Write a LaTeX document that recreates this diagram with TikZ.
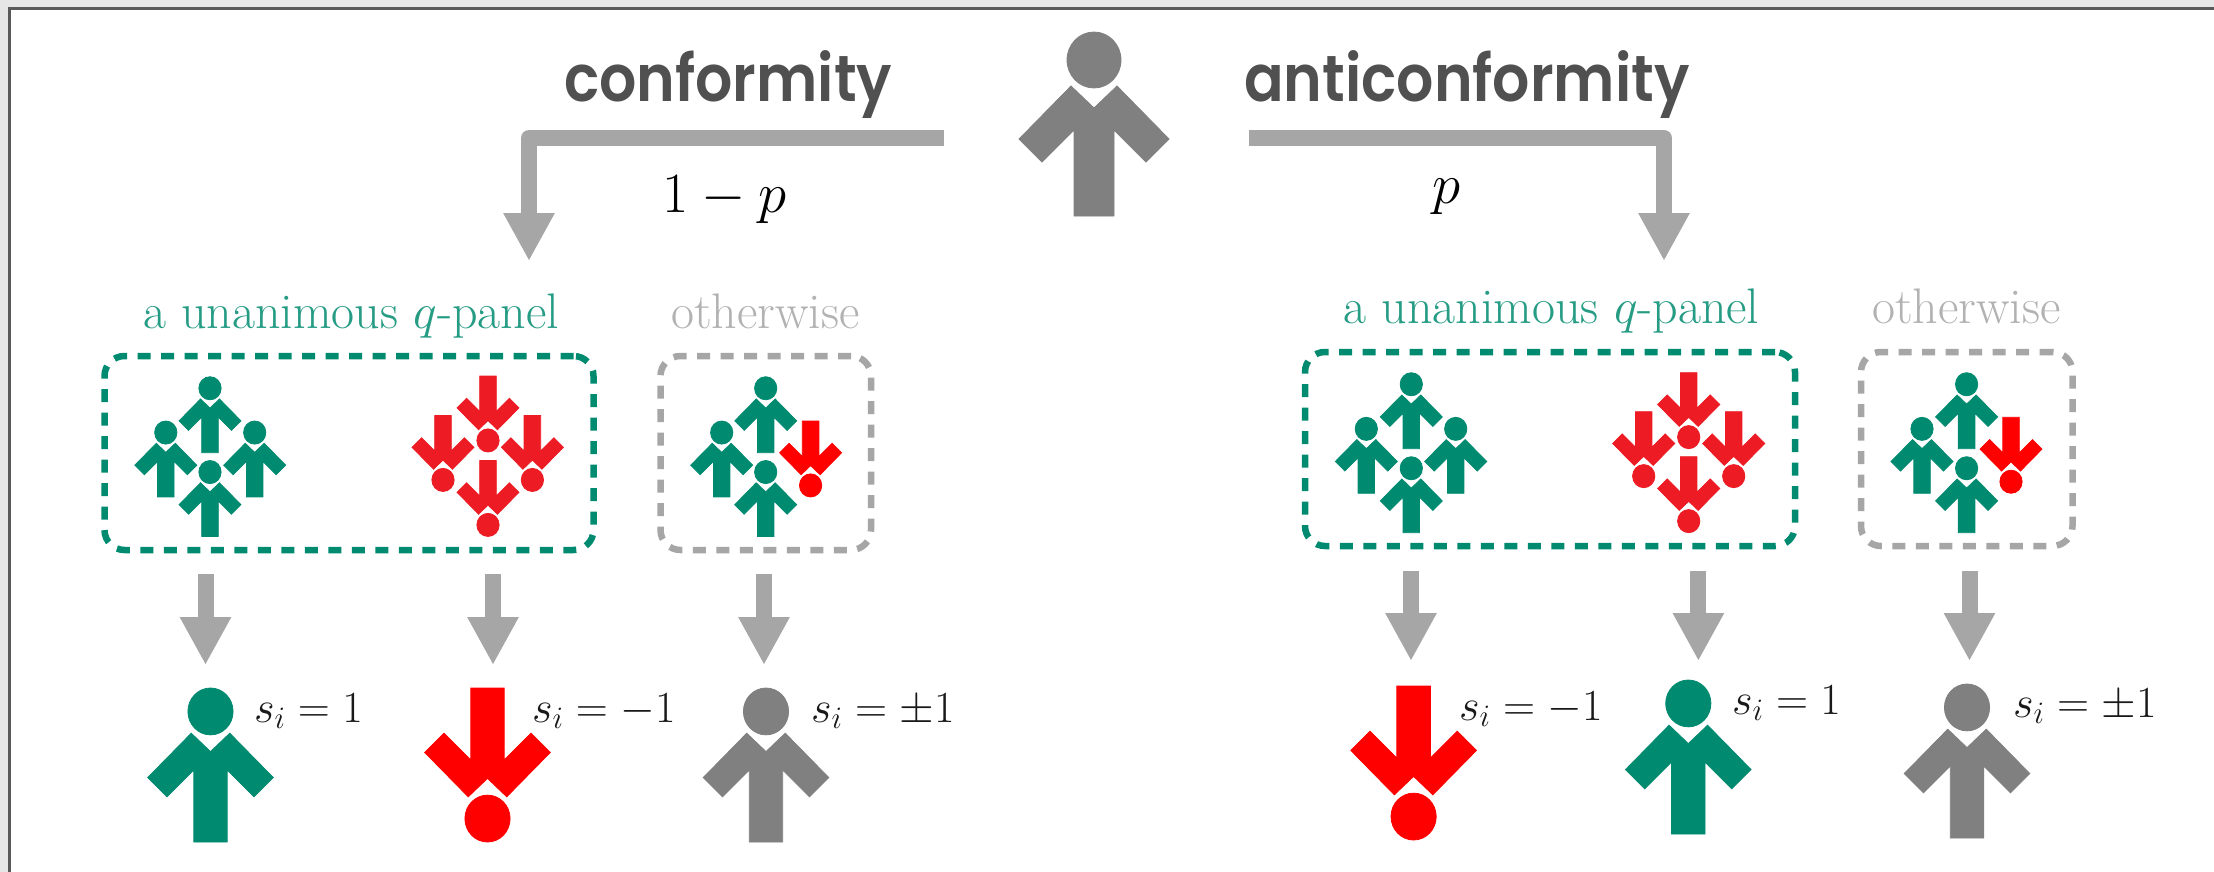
\documentclass[tikz,border=0pt]{standalone}
\usepackage{fix-cm}
\usepackage[no-math]{fontspec}
\usetikzlibrary{arrows.meta}
\newfontfamily\titlefont[FakeStretch=0.9]{Poppins SemiBold}
\definecolor{pgreen}{HTML}{008B70}
\definecolor{pred}{HTML}{FF0000}
\definecolor{pcrim}{HTML}{ED1C24}
\definecolor{pgray}{HTML}{808080}
\definecolor{arrowgray}{HTML}{A6A6A6}
\definecolor{titlegray}{HTML}{505050}
\definecolor{backdrop}{HTML}{E6E6E6}
\definecolor{framegray}{HTML}{595959}
\tikzset{
  manfig/.pic={
    \fill[pic actions] (0,-64) ellipse [x radius=27, y radius=28];
    \fill[pic actions] (0,-16)--(23,-38)--(75,15)--(52,38)--(20,6)--(20,92)--(-20,92)--(-20,6)--(-52,38)--(-75,15)--(-23,-38)--cycle;
  },
  flow/.style={draw=arrowgray, line width=16pt, line join=round, -{Triangle[length=48pt,width=48pt]}},
  titletext/.style={anchor=base west, inner sep=0pt, text=titlegray, font=\titlefont\fontsize{65}{75}\selectfont},
  bigmath/.style={anchor=base west, inner sep=0pt, text=black, font=\fontsize{57}{66}\selectfont},
  statemath/.style={anchor=base west, inner sep=0pt, text=black!90, font=\fontsize{44.5}{52}\selectfont},
  paneltext/.style={anchor=base west, inner sep=0pt, font=\fontsize{50}{60}\selectfont},
  panelbox/.style={draw, line width=6.5pt, dash pattern=on 13pt off 10.5pt, rounded corners=20pt, inner sep=0pt},
}
\newcommand{\upman}[5]{\pic (#1) [fill=#5, draw=#5, line width=.8pt, scale=#4] at (#2,{#3+92*#4}) {manfig};}
\newcommand{\downman}[5]{\pic (#1) [fill=#5, draw=#5, line width=.8pt, xscale=#4, yscale=-#4] at (#2,{#3+92*#4}) {manfig};}
\begin{document}
\begin{tikzpicture}[x=1pt,y=-1pt]
\useasboundingbox (0,0) rectangle (2214,872);
% page backdrop and frame
\fill[backdrop] (0,0) rectangle (2214,872);
\fill[white] (9.5,9) rectangle (2214,872);
\draw[line width=3pt, draw=framegray] (9.5,872) -- (9.5,9) -- (2214,9);

% centre person and titles
\upman{top}{1094}{32}{1}{pgray}
\node[titletext] (tconf) at (564,101.5) {conformity};
\node[titletext] (tanti) at (1244,101.5) {anticonformity};
\node[bigmath] (lconf) at (662,212.5) {$1-p$};
\node[bigmath] (lanti) at (1432,203) {$p$};

% main branches
\coordinate (bl0) at (944,138);
\coordinate (bl1) at (529,138);
\coordinate (bl2) at (529,261);
\coordinate (br0) at (1249,138);
\coordinate (br1) at (1664,138);
\coordinate (br2) at (1664,261);
\draw[flow] (bl0) -- (bl1) -- (bl2);
\draw[flow] (br0) -- (br1) -- (br2);

% left panels
\node[paneltext, text=pgreen!85] (pl1) at (143,328) {a unanimous $q$-panel};
\node[paneltext, text=gray!60] (pl2) at (671,328) {otherwise};
\node[panelbox, draw=pgreen, minimum width=489pt, minimum height=194pt] (bl) at (349,453) {};
\node[panelbox, draw=arrowgray, minimum width=210.5pt, minimum height=194pt] (bo) at (765.75,453) {};

\upman{a1}{210}{376.7}{.413}{pgreen}
\upman{a2}{165.8}{421}{.413}{pgreen}
\upman{a3}{254.7}{421}{.413}{pgreen}
\upman{a4}{210}{460.5}{.413}{pgreen}
\downman{b1}{488}{376}{.413}{pcrim}
\downman{b2}{443}{415.5}{.413}{pcrim}
\downman{b3}{532.4}{415.5}{.413}{pcrim}
\downman{b4}{488}{460.5}{.413}{pcrim}
\upman{c1}{765.7}{376.7}{.413}{pgreen}
\upman{c2}{721.7}{421}{.413}{pgreen}
\upman{c4}{765.7}{460.5}{.413}{pgreen}
\downman{c3}{810.6}{421}{.413}{pred}

% left outcome arrows
\coordinate (la1s) at (205.5,574); \coordinate (la1e) at (205.5,665);
\coordinate (la2s) at (493,574);   \coordinate (la2e) at (493,665);
\coordinate (la3s) at (764,574);   \coordinate (la3e) at (764,665);
\draw[flow] (la1s) -- (la1e);
\draw[flow] (la2s) -- (la2e);
\draw[flow] (la3s) -- (la3e);

% left outcomes
\upman{o1}{210.5}{688}{.837}{pgreen}
\downman{o2}{487.5}{688}{.837}{pred}
\upman{o3}{766}{688}{.837}{pgray}
\node[statemath] (s1) at (254,722) {$s_i=1$};
\node[statemath] (s2) at (532,722) {$s_i=-1$};
\node[statemath] (s3) at (811,722) {$s_i=\pm1$};

% right panels
\node[paneltext, text=pgreen!85] (pr1) at (1343.5,323) {a unanimous $q$-panel};
\node[paneltext, text=gray!60] (pr2) at (1872,323) {otherwise};
\node[panelbox, draw=pgreen, minimum width=490pt, minimum height=194pt] (br) at (1550,449) {};
\node[panelbox, draw=arrowgray, minimum width=211.5pt, minimum height=194pt] (bq) at (1966.75,449) {};

\upman{d1}{1411.3}{372.7}{.413}{pgreen}
\upman{d2}{1366.3}{417.3}{.413}{pgreen}
\upman{d3}{1455.7}{417.3}{.413}{pgreen}
\upman{d4}{1411.3}{456.7}{.413}{pgreen}
\downman{e1}{1688.7}{372.7}{.413}{pcrim}
\downman{e2}{1643.7}{411.7}{.413}{pcrim}
\downman{e3}{1733.7}{411.7}{.413}{pcrim}
\downman{e4}{1688.7}{456.7}{.413}{pcrim}
\upman{f1}{1966.6}{372.7}{.413}{pgreen}
\upman{f2}{1922}{417.3}{.413}{pgreen}
\upman{f4}{1966.6}{456.7}{.413}{pgreen}
\downman{f3}{2011}{417.3}{.413}{pred}

% right outcome arrows
\coordinate (ra1s) at (1411,570.7);   \coordinate (ra1e) at (1411,661);
\coordinate (ra2s) at (1698.4,570.7); \coordinate (ra2e) at (1698.4,661);
\coordinate (ra3s) at (1969.5,570.7); \coordinate (ra3e) at (1969.5,661);
\draw[flow] (ra1s) -- (ra1e);
\draw[flow] (ra2s) -- (ra2e);
\draw[flow] (ra3s) -- (ra3e);

% right outcomes
\downman{q1}{1413.6}{686}{.837}{pred}
\upman{q2}{1688.3}{680}{.837}{pgreen}
\upman{q3}{1967}{684}{.837}{pgray}
\node[statemath] (t1) at (1459,720) {$s_i=-1$};
\node[statemath] (t2) at (1732,714) {$s_i=1$};
\node[statemath] (t3) at (2013,717) {$s_i=\pm1$};
\end{tikzpicture}
\end{document}
